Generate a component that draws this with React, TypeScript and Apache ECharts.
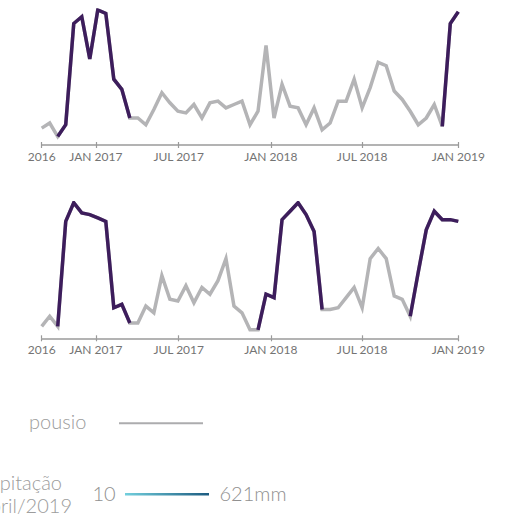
import React, { useEffect, useRef } from "react";
import * as echarts from "echarts";

// Vegetation index series (uniformly spaced acquisitions, index 0..52)
const topValues = [
  0.20, 0.23, 0.15, 0.22, 0.82, 0.86, 0.61, 0.90, 0.88, 0.49, 0.43, 0.26,
  0.26, 0.22, 0.31, 0.41, 0.35, 0.30, 0.29, 0.34, 0.26, 0.35, 0.36, 0.32,
  0.34, 0.36, 0.22, 0.30, 0.69, 0.26, 0.46, 0.33, 0.32, 0.22, 0.32, 0.19,
  0.23, 0.36, 0.36, 0.49, 0.32, 0.44, 0.59, 0.57, 0.42, 0.37, 0.30, 0.22,
  0.26, 0.34, 0.21, 0.82, 0.89,
];
const bottomValues = [
  0.17, 0.23, 0.17, 0.79, 0.90, 0.84, 0.83, 0.81, 0.79, 0.28, 0.30, 0.19,
  0.19, 0.29, 0.25, 0.47, 0.33, 0.32, 0.41, 0.31, 0.40, 0.36, 0.44, 0.57,
  0.29, 0.25, 0.15, 0.15, 0.36, 0.34, 0.80, 0.85, 0.90, 0.83, 0.73, 0.27,
  0.27, 0.28, 0.34, 0.40, 0.28, 0.57, 0.63, 0.57, 0.35, 0.33, 0.23, 0.49,
  0.74, 0.85, 0.80, 0.80, 0.79,
];
// Cultivated periods (index ranges), drawn in purple; the rest is "pousio"
const topCropRanges = [
  [2, 11],
  [50, 52],
];
const bottomCropRanges = [
  [2, 11],
  [27, 35],
  [46, 52],
];
// Axis ticks (position on the acquisition index scale) and labels
const tickPositions = [0, 6.75, 17.1, 28.6, 40, 52];
const tickLabels = ["2016", "JAN 2017", "JUL 2017", "JAN 2018", "JUL 2018", "JAN 2019"];
// Legend
const legendFallowLabel = "pousio";
const legendPrecipTitle = ["Precipitação", "abril/2019"];
const precipMin = "10";
const precipMax = "621mm";

const GRAY = "#b4b4b6";
const PURPLE = "#3d1d5c";
const AXIS = "#9a9a9a";
const FONT = "Lato, 'Open Sans', sans-serif";

function inRanges(i: number, ranges: number[][]) {
  return ranges.some(([a, b]) => i >= a && i <= b);
}

export default function App() {
  const ref = useRef<HTMLDivElement>(null);
  useEffect(() => {
    if (!ref.current) return;
    const chart = echarts.init(ref.current, undefined, { renderer: "svg" });

    const grids = [
      { left: 41.7, right: 54.7, top: 10, height: 135 },
      { left: 41.7, right: 54.7, top: 202.7, height: 135.6 },
    ];
    const labelFor = (v: number) => {
      let best = 0;
      tickPositions.forEach((p, i) => {
        if (Math.abs(p - v) < Math.abs(tickPositions[best] - v)) best = i;
      });
      return tickLabels[best];
    };
    const xAxes: any[] = [];
    const yAxes: any[] = [];
    grids.forEach((_, g) => {
      xAxes.push({
        type: "value",
        gridIndex: g,
        position: "bottom",
        min: 0,
        max: topValues.length - 1,
        axisLine: { show: true, lineStyle: { color: AXIS, width: 1.5 } },
        axisTick: {
          show: true,
          customValues: tickPositions,
          length: 3,
          lineStyle: { color: AXIS, width: 1.2 },
        },
        axisLabel: {
          show: true,
          customValues: tickPositions,
          formatter: (v: number) => labelFor(v),
          color: "#747474",
          fontFamily: FONT,
          fontSize: 12,
          margin: 5,
          hideOverlap: false,
        },
        splitLine: { show: false },
      });
      xAxes.push({
        type: "value",
        gridIndex: g,
        position: "bottom",
        offset: 0,
        min: 0,
        max: topValues.length - 1,
        axisLine: { show: false },
        axisTick: {
          show: true,
          inside: true,
          customValues: tickPositions,
          length: 3,
          lineStyle: { color: AXIS, width: 1.2 },
        },
        axisLabel: { show: false },
        splitLine: { show: false },
      });
      yAxes.push({
        type: "value",
        gridIndex: g,
        min: 0.1,
        max: 0.9,
        show: false,
        splitLine: { show: false },
      });
    });

    const makeSeries = (values: number[], ranges: number[][], g: number) => {
      const gray = values.map((v, i) => [i, v]);
      const purple = values.map((v, i) => (inRanges(i, ranges) ? [i, v] : [i, "-"]));
      const base = {
        type: "line",
        xAxisIndex: g * 2,
        yAxisIndex: g,
        symbol: "none",
        showSymbol: false,
        connectNulls: false,
        silent: true,
      };
      return [
        { ...base, data: gray, lineStyle: { color: GRAY, width: 3.5, join: "miter" }, z: 2 },
        { ...base, data: purple, lineStyle: { color: PURPLE, width: 3.5, join: "miter" }, z: 3 },
      ];
    };

    const light = { fontFamily: FONT, fontWeight: 300 };

    chart.setOption({
      animation: false,
      grid: grids,
      xAxis: xAxes,
      yAxis: yAxes,
      series: [
        ...makeSeries(topValues, topCropRanges, 0),
        ...makeSeries(bottomValues, bottomCropRanges, 1),
      ],
      graphic: [
        {
          type: "text",
          x: 29,
          y: 421,
          style: { text: legendFallowLabel, fill: "#9c9c9c", fontSize: 20, ...light, verticalAlign: "middle" },
        },
        {
          type: "line",
          shape: { x1: 119, y1: 423.3, x2: 203, y2: 423.3 },
          style: { stroke: "#acacae", lineWidth: 2 },
        },
        {
          type: "text",
          x: 62,
          y: 482,
          style: {
            text: legendPrecipTitle[0],
            fill: "#9c9c9c",
            fontSize: 20,
            ...light,
            align: "right",
            verticalAlign: "middle",
          },
        },
        {
          type: "text",
          x: 72,
          y: 504.5,
          style: {
            text: legendPrecipTitle[1],
            fill: "#9c9c9c",
            fontSize: 20,
            ...light,
            align: "right",
            verticalAlign: "middle",
          },
        },
        {
          type: "text",
          x: 92.5,
          y: 493,
          style: { text: precipMin, fill: "#909090", fontSize: 20, ...light, verticalAlign: "middle" },
        },
        {
          type: "rect",
          shape: { x: 125, y: 493, width: 84, height: 2.6 },
          style: {
            fill: new echarts.graphic.LinearGradient(0, 0, 1, 0, [
              { offset: 0, color: "#72cfdd" },
              { offset: 1, color: "#1c5b80" },
            ]),
          },
        },
        {
          type: "text",
          x: 219.5,
          y: 493,
          style: { text: precipMax, fill: "#909090", fontSize: 20, ...light, verticalAlign: "middle" },
        },
      ],
    });
    return () => chart.dispose();
  }, []);
  return (
    <div
      ref={ref}
      style={{ position: "absolute", left: 0, top: 0, width: 513, height: 518 }}
    />
  );
}
